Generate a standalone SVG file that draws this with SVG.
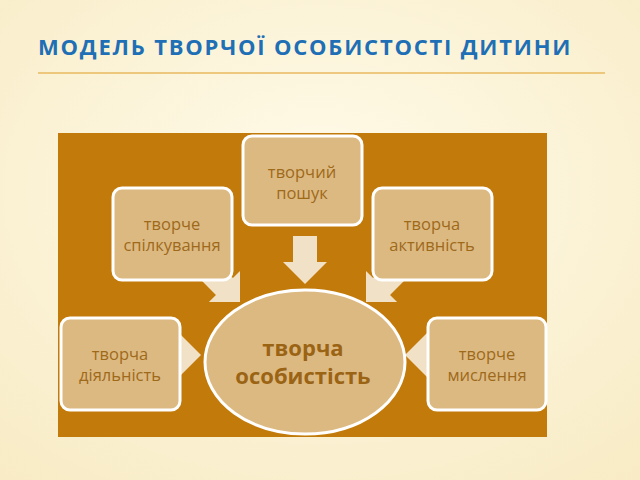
<svg xmlns="http://www.w3.org/2000/svg" width="640" height="480" viewBox="0 0 640 480">
<defs>
<radialGradient id="bg" cx="0.5" cy="0.4" r="0.8"><stop offset="0" stop-color="#FFFBEA"/><stop offset="1" stop-color="#F8EBC4"/></radialGradient>
<g id="arr"><polygon points="0,0 -22,-22 -22,-12 -48,-12 -48,12 -22,12 -22,22" fill="#F1E1C6"/></g>
</defs>
<style>
.box{fill:#DDB982;stroke:#FFFFFF;stroke-width:3}
.t{font-family:"Open Sans","Liberation Sans",sans-serif;font-size:16.5px;fill:#9E6A1A;text-anchor:middle}
.big{font-family:"Open Sans","Liberation Sans",sans-serif;font-size:22px;font-weight:bold;fill:#9A6414;text-anchor:middle}
</style>
<rect width="640" height="480" fill="url(#bg)"/>
<text x="38" y="55" font-family="'Open Sans','Liberation Sans',sans-serif" font-size="22" font-weight="bold" letter-spacing="1.8" fill="#1E6FB5">МОДЕЛЬ ТВОРЧОЇ ОСОБИСТОСТІ ДИТИНИ</text>
<line x1="38" y1="73" x2="605" y2="73" stroke="#E9B95E" stroke-width="1.5"/>
<rect x="58" y="133" width="489" height="304" fill="#C27A0A"/>
<g id="connectors">
<use href="#arr" transform="translate(240,302) rotate(45)"/>
<use href="#arr" transform="translate(366,302) rotate(135)"/>
<use href="#arr" transform="translate(305,284) rotate(90)"/>
<use href="#arr" transform="translate(201,355)"/>
<use href="#arr" transform="translate(405,355) rotate(180)"/>
</g>
<g id="n-poshuk"><rect class="box" x="243" y="136" width="119" height="89" rx="9"/><text class="t" x="302" y="178">творчий</text><text class="t" x="302" y="199">пошук</text></g>
<g id="n-spilk"><rect class="box" x="113" y="188" width="119" height="92" rx="9"/><text class="t" x="172" y="230">творче</text><text class="t" x="172" y="251">спілкування</text></g>
<g id="n-aktyv"><rect class="box" x="373" y="188" width="119" height="92" rx="9"/><text class="t" x="432" y="230">творча</text><text class="t" x="432" y="251">активність</text></g>
<g id="n-diyal"><rect class="box" x="61" y="318" width="119" height="92" rx="9"/><text class="t" x="120" y="360">творча</text><text class="t" x="120" y="381">діяльність</text></g>
<g id="n-myslen"><rect class="box" x="428" y="318" width="118" height="92" rx="9"/><text class="t" x="487" y="360">творче</text><text class="t" x="487" y="381">мислення</text></g>
<g id="n-osob"><ellipse class="box" cx="305" cy="362" rx="100" ry="72"/><text class="big" x="303" y="356">творча</text><text class="big" x="303" y="384">особистість</text></g>
</svg>
